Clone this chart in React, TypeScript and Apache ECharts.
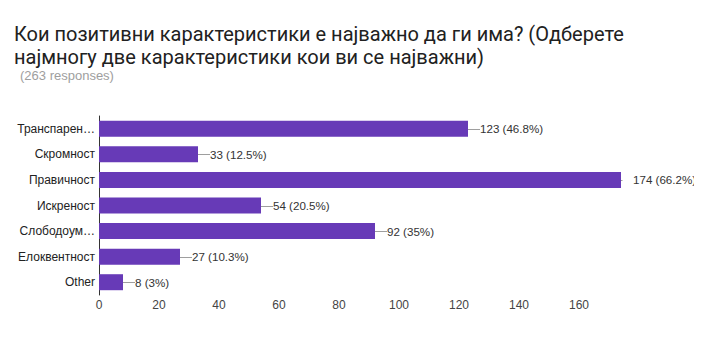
import React, { useEffect, useRef } from "react";
import * as echarts from "echarts";

const titleText = "Кои позитивни карактеристики е најважно да ги има? (Одберете\nнајмногу две карактеристики кои ви се најважни)";
const subtitleText = "(263 responses)";
const categories = ["Транспарентност", "Скромност", "Правичност", "Искреност", "Слободоумност", "Елоквентност", "Other"];
const values = [123, 33, 174, 54, 92, 27, 8];
const percents = ["46.8%", "12.5%", "66.2%", "20.5%", "35%", "10.3%", "3%"];

const labelFont = "'Liberation Sans', Arial, sans-serif";

function truncateLabel(s: string, maxW: number): string {
  const c = document.createElement("canvas").getContext("2d");
  if (!c) return s;
  c.font = "12px " + labelFont;
  if (c.measureText(s).width <= maxW) return s;
  let t = s;
  while (t.length > 1 && c.measureText(t + "…").width > maxW) t = t.slice(0, -1);
  return t + "…";
}

export default function App() {
  const ref = useRef<HTMLDivElement>(null);
  useEffect(() => {
    if (!ref.current) return;
    const chart = echarts.init(ref.current, null, { renderer: "svg" });
    const font = labelFont;
    chart.setOption({
      animation: false,
      backgroundColor: "#ffffff",
      title: [
        {
          text: titleText,
          left: 9,
          top: 17,
          textStyle: { fontFamily: "Roboto", fontSize: 20, fontWeight: "normal", color: "#212121", lineHeight: 23 },
        },
        {
          text: subtitleText,
          left: 15,
          top: 64,
          textStyle: { fontFamily: font, fontSize: 13, fontWeight: "normal", color: "#9e9e9e" },
        },
      ],
      grid: { left: 99, right: 81, top: 116, height: 179, containLabel: false },
      xAxis: {
        type: "value",
        min: 0,
        max: 174,
        interval: 20,
        axisLine: { show: false },
        axisTick: { show: false },
        splitLine: { show: false },
        axisLabel: { showMaxLabel: false, color: "#444", fontFamily: font, fontSize: 12, margin: 4 },
      },
      yAxis: {
        type: "category",
        inverse: true,
        data: categories,
        axisLine: { show: true, lineStyle: { color: "#333", width: 1 } },
        axisTick: { show: false },
        axisLabel: {
          color: "#222",
          fontFamily: font,
          fontSize: 12,
          margin: 4,
          formatter: (s: string) => truncateLabel(s, 79.5),
        },
      },
      series: [
        {
          type: "bar",
          data: values,
          barWidth: 16,
          itemStyle: { color: "#673AB7" },
          z: 2,
        },
        {
          type: "custom",
          data: values.map((v, i) => [v, i]),
          z: 3,
          clip: false,
          renderItem: (params: any, api: any) => {
            const i = params.dataIndex;
            const p = api.coord([values[i], i]);
            const right = params.coordSys.x + params.coordSys.width;
            const y = Math.round(p[1]) + 0.5;
            const x2 = Math.min(p[0] + 12, right + 1.5);
            return {
              type: "group",
              children: [
                {
                  type: "line",
                  shape: { x1: p[0], y1: y, x2, y2: y },
                  style: { stroke: "#9e9e9e", lineWidth: 1 },
                },
                {
                  type: "text",
                  x: p[0] + 12,
                  y: p[1],
                  style: {
                    text: values[i] + " (" + percents[i] + ")",
                    fill: "#333",
                    fontFamily: font,
                    fontSize: 11.6,
                    verticalAlign: "middle",
                    align: "left",
                  },
                },
              ],
            };
          },
        },
      ],
    });
    return () => chart.dispose();
  }, []);
  return <div ref={ref} style={{ width: 702, height: 359, margin: -8 }} />;
}
